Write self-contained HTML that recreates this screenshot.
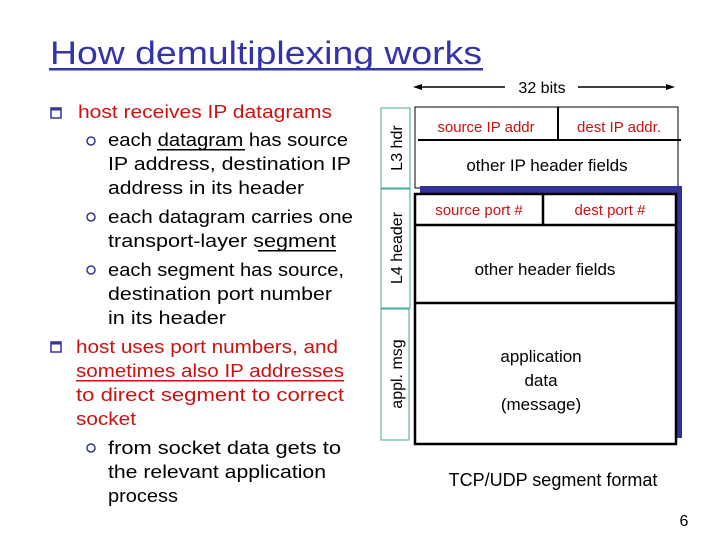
<!DOCTYPE html>
<html><head><meta charset="utf-8"><style>
html,body{margin:0;padding:0;background:#fff}
svg{display:block}
text{font-family:"Liberation Sans",sans-serif}
</style></head><body>
<svg width="720" height="540" viewBox="0 0 720 540" xmlns="http://www.w3.org/2000/svg">
<text x="50" y="64" font-size="32" fill="#3333aa" textLength="432" lengthAdjust="spacingAndGlyphs">How demultiplexing works</text>
<rect x="49" y="68" width="434" height="2.5" fill="#3333aa"/>

<g font-size="18" fill="#000">
<rect x="51" y="108" width="10" height="10" fill="none" stroke="#333399" stroke-width="1.5"/>
<rect x="51" y="108" width="10" height="2.5" fill="#333399"/>
<text x="78" y="118" fill="#cc1111" textLength="254" lengthAdjust="spacingAndGlyphs">host receives IP datagrams</text>
<circle cx="91" cy="141" r="4" fill="none" stroke="#333399" stroke-width="1.5"/>
<text x="108" y="146" textLength="240" lengthAdjust="spacingAndGlyphs">each datagram has source</text>
<rect x="157" y="149" width="88" height="1.5"/>
<text x="108" y="170" textLength="243" lengthAdjust="spacingAndGlyphs">IP address, destination IP</text>
<text x="108" y="194" textLength="196" lengthAdjust="spacingAndGlyphs">address in its header</text>
<circle cx="91" cy="217" r="4" fill="none" stroke="#333399" stroke-width="1.5"/>
<text x="108" y="223" textLength="245" lengthAdjust="spacingAndGlyphs">each datagram carries one</text>
<text x="108" y="247" textLength="228" lengthAdjust="spacingAndGlyphs">transport-layer segment</text>
<rect x="258" y="250" width="78" height="1.5"/>
<circle cx="91" cy="270" r="4" fill="none" stroke="#333399" stroke-width="1.5"/>
<text x="108" y="276" textLength="236" lengthAdjust="spacingAndGlyphs">each segment has source,</text>
<text x="108" y="300" textLength="224" lengthAdjust="spacingAndGlyphs">destination port number</text>
<text x="108" y="324" textLength="118" lengthAdjust="spacingAndGlyphs">in its header</text>
<rect x="51" y="342" width="10" height="10" fill="none" stroke="#333399" stroke-width="1.5"/>
<rect x="51" y="342" width="10" height="2.5" fill="#333399"/>
<g fill="#cc1111">
<text x="76" y="353" textLength="262" lengthAdjust="spacingAndGlyphs">host uses port numbers, and</text>
<text x="76" y="377" textLength="268" lengthAdjust="spacingAndGlyphs">sometimes also IP addresses</text>
<rect x="76" y="380" width="268" height="1.5"/>
<text x="76" y="401" textLength="268" lengthAdjust="spacingAndGlyphs">to direct segment to correct</text>
<text x="76" y="425" textLength="60" lengthAdjust="spacingAndGlyphs">socket</text>
</g>
<circle cx="91" cy="448" r="4" fill="none" stroke="#333399" stroke-width="1.5"/>
<text x="108" y="454" textLength="233" lengthAdjust="spacingAndGlyphs">from socket data gets to</text>
<text x="108" y="478" textLength="218" lengthAdjust="spacingAndGlyphs">the relevant application</text>
<text x="108" y="502" textLength="70" lengthAdjust="spacingAndGlyphs">process</text>
</g>

<line x1="418" y1="87" x2="505" y2="87" stroke="#000" stroke-width="1.5"/>
<line x1="578" y1="87" x2="670" y2="87" stroke="#000" stroke-width="1.5"/>
<polygon points="413,87 422,84 422,90"/>
<polygon points="675,87 666,84 666,90"/>
<text x="542" y="93" font-size="16" text-anchor="middle">32 bits</text>

<g fill="none" stroke="#44aa99" stroke-width="1">
<rect x="381" y="108" width="29" height="80"/>
<rect x="381" y="189" width="29" height="119"/>
<rect x="381" y="309" width="28" height="131"/>
</g>
<g font-size="16">
<text transform="translate(402,148) rotate(-90)" text-anchor="middle">L3 hdr</text>
<text transform="translate(402,248) rotate(-90)" text-anchor="middle">L4 header</text>
<text transform="translate(402,374) rotate(-90)" text-anchor="middle">appl. msg</text>
</g>

<rect x="415" y="107" width="263" height="81" fill="#fff" stroke="#000" stroke-width="1"/>
<line x1="558" y1="107" x2="558" y2="140" stroke="#000" stroke-width="2"/>
<line x1="418" y1="140" x2="681" y2="140" stroke="#000" stroke-width="2"/>
<text x="486" y="132" font-size="15" fill="#cc1111" text-anchor="middle">source IP addr</text>
<text x="619" y="132" font-size="15" fill="#cc1111" text-anchor="middle">dest IP addr.</text>
<text x="547" y="171" font-size="17" text-anchor="middle">other IP header fields</text>

<rect x="420" y="186" width="262" height="252" fill="#333399"/>
<rect x="415" y="194" width="261" height="250" fill="#fff" stroke="#000" stroke-width="2.5"/>
<line x1="415" y1="225" x2="676" y2="225" stroke="#000" stroke-width="2.5"/>
<line x1="543" y1="194" x2="543" y2="225" stroke="#000" stroke-width="2.5"/>
<line x1="415" y1="303" x2="676" y2="303" stroke="#000" stroke-width="2.5"/>
<text x="479" y="215" font-size="15" fill="#cc1111" text-anchor="middle">source port #</text>
<text x="610" y="215" font-size="15" fill="#cc1111" text-anchor="middle">dest port #</text>
<text x="545" y="275" font-size="17" text-anchor="middle">other header fields</text>
<text x="541" y="362" font-size="17" text-anchor="middle">application</text>
<text x="541" y="386" font-size="17" text-anchor="middle">data</text>
<text x="541" y="410" font-size="17" text-anchor="middle">(message)</text>

<text x="553" y="486" font-size="18" text-anchor="middle">TCP/UDP segment format</text>
<text x="684" y="526" font-size="16" text-anchor="middle">6</text>
</svg>
</body></html>
